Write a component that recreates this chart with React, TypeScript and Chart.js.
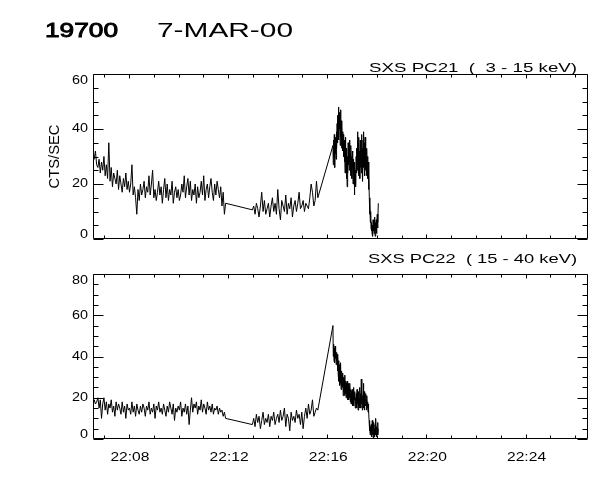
import React, { useEffect, useRef } from "react";
import { Chart, registerables } from "chart.js";

Chart.register(...registerables);

// ---------- data (minutes after 22:00) ----------
const X_MIN = 6.55;
const X_MAX = 26.52;

// three observing segments: [start minute, end minute]
const segmentA: [number, number] = [6.55, 11.9];
const segmentB: [number, number] = [12.98, 15.62];
const segmentC: [number, number] = [16.23, 18.06];

const pc21SegA = [
  31, 29, 32, 27, 26, 29, 24, 28, 25, 30,
  23, 27, 22, 35, 21, 26, 19, 24, 22, 20,
  25, 18, 23, 20, 17, 22, 19, 24, 18, 21,
  17, 20, 27, 16, 19, 15, 9, 18, 14, 20,
  16, 18, 21, 15, 19, 17, 23, 16, 20, 25,
  15, 18, 14, 17, 21, 16, 19, 13, 18, 22,
  15, 20, 14, 18, 16, 21, 13, 17, 19, 15,
  18, 14, 16, 20, 17, 23, 15, 19, 22, 16,
  21, 14, 18, 16, 20, 13, 19, 15, 17, 21,
  16, 23, 14, 18, 20, 15, 19, 22, 17, 14,
  20, 16, 21, 18, 15, 19, 12, 17, 9, 13,
];
const pc21SegB = [
  10.6, 12, 9, 13, 11, 8, 12, 17, 10, 14, 9, 11, 13, 8, 12, 15, 10, 13, 9, 18,
  11, 7, 14, 12, 10, 16, 9, 13, 11, 15, 8, 12, 14, 10, 13, 17, 11, 12, 14, 10,
  13, 12, 11, 15, 20, 17, 12, 14, 21, 15,
];
const pc21SegC = [
  34, 27, 36, 30, 38, 26, 35, 31, 37, 29, 39, 33,
  42, 35, 45, 38, 48, 36, 46, 40, 44, 34, 47, 37, 43, 33, 41, 36, 39, 32,
  38, 30, 36, 28, 34, 24, 37, 29, 33, 22, 31, 19,
  30, 24, 35, 27, 33, 25, 36, 28, 31, 23, 34, 26, 30, 22, 32,
  26, 20, 29, 23, 27, 16, 28, 21, 25, 19, 30, 24,
  33, 25, 39, 27, 35, 23, 37, 28, 32, 22, 36, 26,
  34, 24, 38, 27, 33, 21, 36, 26, 39, 28, 35, 23, 37, 25, 32,
  29, 23, 33, 25, 30, 22, 28, 18, 24,
  15, 9, 13, 6, 10, 4,
  3, 6, 2, 5, 1, 7, 3, 5, 2, 8, 4, 1, 6, 3, 7, 2, 5, 9, 4, 6, 13,
];

const pc22SegA = [
  16, 19, 17, 18, 20, 15, 19, 10, 17, 20,
  14, 18, 12, 17, 15, 19, 13, 16, 11, 18,
  14, 17, 15, 12, 18, 13, 16, 10, 17, 14,
  15, 12, 18, 13, 16, 11, 17, 14, 12, 16,
  13, 17, 15, 11, 16, 14, 18, 12, 15, 13,
  17, 10, 16, 14, 18, 13, 15, 12, 17, 14,
  11, 16, 13, 18, 15, 12, 17, 9, 15, 13,
  16, 14, 18, 11, 15, 13, 17, 12, 16, 7,
  14, 20, 13, 17, 15, 18, 12, 16, 14, 19,
  13, 17, 15, 12, 18, 14, 16, 13, 17, 12,
  15, 14, 16, 12, 15, 13, 14, 11, 13, 10,
];
const pc22SegB = [
  7, 10, 6, 12, 8, 11, 5, 9, 13, 7, 10, 8, 12, 6, 11, 9, 13, 7, 10, 12,
  8, 14, 9, 11, 15, 6, 12, 10, 4, 13, 9, 11, 8, 14, 10, 12, 7, 13, 5, 11,
  15, 10, 17, 12, 14, 19, 11, 13, 15, 14,
];
const pc22SegC = [
  55, 40, 46, 38, 44, 37, 45, 39, 43, 36, 42, 38,
  41, 33, 40, 31, 38, 28, 36, 26, 34, 27, 37, 24, 33, 26, 31,
  25, 32, 21, 30, 23, 29, 21, 31, 22, 28, 20, 27,
  22, 28, 19, 26, 21, 27, 19, 25, 20, 27, 18, 24, 17, 23, 19,
  24, 16, 22, 18, 25, 16, 21, 19, 23, 15, 20, 17,
  22, 15, 24, 17, 21, 14, 23, 16, 20, 15, 25, 18,
  22, 15, 29, 17, 24, 14, 21, 16, 27, 15, 23, 14, 20, 17, 22,
  16, 19, 14, 21, 15, 18, 13, 17, 14,
  9, 4, 8, 2, 6, 3,
  7, 1, 5, 9, 2, 6, 0, 8, 3, 5, 1, 7, 2, 10, 4, 1, 6, 3, 8, 2, 5,
];

// ticks
const xMinorTicks = [7, 9, 10, 11, 13, 14, 15, 17, 18, 19, 21, 22, 23, 25, 26];
const xMajorTicks = [8, 12, 16, 20, 24];
const xTickLabels = ["22:08", "22:12", "22:16", "22:20", "22:24"];

const pc21YMajor = [0, 20, 40, 60];
const pc21YMinor = [5, 10, 15, 25, 30, 35, 45, 50, 55];
const pc22YMajor = [0, 20, 40, 60, 80];
const pc22YMinor = [5, 10, 15, 25, 30, 35, 45, 50, 55, 65, 70, 75];

const mainTitleId = "19700";
const mainTitleDate = "7-MAR-00";
const pc21Title = "SXS PC21  (  3 - 15 keV)";
const pc22Title = "SXS PC22  ( 15 - 40 keV)";
const yAxisTitle = "CTS/SEC";

// ---------- helpers ----------
function buildPoints(segs: [number, number][], vals: number[][]) {
  const pts: { x: number; y: number }[] = [];
  segs.forEach(([t0, t1], i) => {
    const v = vals[i];
    const n = v.length;
    v.forEach((y, j) => pts.push({ x: t0 + ((t1 - t0) * j) / (n - 1), y }));
  });
  return pts;
}

const FONT = "'Liberation Sans', Arial, sans-serif";
const LABEL_STRETCH = 1.3;

// draw text stretched horizontally (wide vector-font look)
function drawStretched(ctx: any, text: string, x: number, y: number, font: string, sx: number, align: "left" | "right" | "center", strokeW = 0) {
  ctx.font = font;
  const w = ctx.measureText(text).width * sx;
  let x0 = x;
  if (align === "right") x0 = x - w;
  else if (align === "center") x0 = x - w / 2;
  ctx.save();
  ctx.translate(x0, y);
  ctx.scale(sx, 1);
  ctx.textAlign = "left";
  ctx.fillText(text, 0, 0);
  if (strokeW > 0) {
    ctx.lineWidth = strokeW;
    ctx.strokeStyle = "#000";
    ctx.strokeText(text, 0, 0);
  }
  ctx.restore();
}

function drawFitted(ctx: any, text: string, x: number, y: number, width: number, font: string, strokeW = 0) {
  ctx.font = font;
  const w = ctx.measureText(text).width;
  drawStretched(ctx, text, x, y, font, width / w, "left", strokeW);
}

type PanelCfg = {
  yMajor: number[];
  yMinor: number[];
  title: string;
  titleX: number;
  titleY: number;
  showXLabels: boolean;
  showMain: boolean;
};

function makePlugin(cfg: PanelCfg) {
  return {
    id: "idlAxes",
    afterDatasetsDraw(chart: any) {
      const { ctx, chartArea: a, scales } = chart;
      const xs = scales.x;
      const ys = scales.y;
      const L = Math.round(a.left) + 0.5;
      const R = Math.round(a.right) - 0.5;
      const T = Math.round(a.top) + 0.5;
      const B = Math.round(a.bottom) - 0.5;
      ctx.save();
      ctx.strokeStyle = "#000";
      ctx.fillStyle = "#000";
      ctx.lineWidth = 1;
      ctx.beginPath();
      ctx.rect(L, T, R - L, B - T);
      const yTick = (v: number, len: number) => {
        const p = Math.round(ys.getPixelForValue(v)) + 0.5;
        ctx.moveTo(L, p);
        ctx.lineTo(L + len, p);
        ctx.moveTo(R, p);
        ctx.lineTo(R - len, p);
      };
      cfg.yMajor.forEach((v) => yTick(v, 10));
      cfg.yMinor.forEach((v) => yTick(v, 5));
      const xTick = (v: number, len: number) => {
        const p = Math.round(xs.getPixelForValue(v)) + 0.5;
        ctx.moveTo(p, B);
        ctx.lineTo(p, B - len);
        ctx.moveTo(p, T);
        ctx.lineTo(p, T + len);
      };
      xMajorTicks.forEach((v) => xTick(v, 4));
      xMinorTicks.forEach((v) => xTick(v, 3));
      ctx.stroke();

      // y labels
      ctx.textBaseline = "middle";
      cfg.yMajor.forEach((v) => {
        const p = ys.getPixelForValue(v);
        const c = Math.max(a.top + 7, Math.min(a.bottom - 4.5, p));
        drawStretched(ctx, String(v), a.left - 5, c, `12px ${FONT}`, 1.2, "right");
      });
      // x labels
      if (cfg.showXLabels) {
        xMajorTicks.forEach((v, i) => {
          drawStretched(ctx, xTickLabels[i], xs.getPixelForValue(v) + 1, a.bottom + 19, `12px ${FONT}`, LABEL_STRETCH, "center");
        });
      }
      ctx.textBaseline = "alphabetic";

      // panel title
      drawFitted(ctx, cfg.title, cfg.titleX, cfg.titleY, 577 - cfg.titleX, `12.5px ${FONT}`);

      if (cfg.showMain) {
        drawFitted(ctx, mainTitleId, 45, 37, 73, `20px ${FONT}`, 0.9);
        drawFitted(ctx, mainTitleDate, 157, 37, 136, `20px ${FONT}`);
        ctx.save();
        ctx.translate(58.5, (a.top + a.bottom) / 2);
        ctx.rotate(-Math.PI / 2);
        drawFitted(ctx, yAxisTitle, -32, 0, 64, `15px ${FONT}`);
        ctx.restore();
      }
      ctx.restore();
    },
  };
}

function makeConfig(points: { x: number; y: number }[], yMax: number, padTop: number, padBottom: number, cfg: PanelCfg): any {
  return {
    type: "line",
    data: {
      datasets: [
        {
          data: points,
          borderColor: "#000",
          borderWidth: 1,
          pointRadius: 0,
          tension: 0,
          fill: false,
        },
      ],
    },
    options: {
      responsive: false,
      animation: false,
      devicePixelRatio: 1,
      layout: { padding: { left: 93, right: 12, top: padTop, bottom: padBottom } },
      plugins: { legend: { display: false }, tooltip: { enabled: false }, title: { display: false } },
      events: [],
      scales: {
        x: { type: "linear", min: X_MIN, max: X_MAX, display: false },
        y: { type: "linear", min: 0, max: yMax, display: false },
      },
    },
    plugins: [makePlugin(cfg)],
  };
}

export default function App() {
  const topRef = useRef<HTMLCanvasElement>(null);
  const botRef = useRef<HTMLCanvasElement>(null);

  useEffect(() => {
    const segs = [segmentA, segmentB, segmentC];
    const top = new Chart(
      topRef.current as HTMLCanvasElement,
      makeConfig(buildPoints(segs, [pc21SegA, pc21SegB, pc21SegC]), 60, 74, 241, {
        yMajor: pc21YMajor,
        yMinor: pc21YMinor,
        title: pc21Title,
        titleX: 369,
        titleY: 72,
        showXLabels: false,
        showMain: true,
      })
    );
    const bot = new Chart(
      botRef.current as HTMLCanvasElement,
      makeConfig(buildPoints(segs, [pc22SegA, pc22SegB, pc22SegC]), 80, 274, 41, {
        yMajor: pc22YMajor,
        yMinor: pc22YMinor,
        title: pc22Title,
        titleX: 368,
        titleY: 263,
        showXLabels: true,
        showMain: false,
      })
    );
    return () => {
      top.destroy();
      bot.destroy();
    };
  }, []);

  const cs: React.CSSProperties = { position: "absolute", left: 0, top: 0, width: 600, height: 480 };
  return (
    <div style={{ position: "fixed", left: 0, top: 0, width: 600, height: 480, background: "#fff" }}>
      <canvas ref={botRef} width={600} height={480} style={cs} />
      <canvas ref={topRef} width={600} height={480} style={cs} />
    </div>
  );
}
